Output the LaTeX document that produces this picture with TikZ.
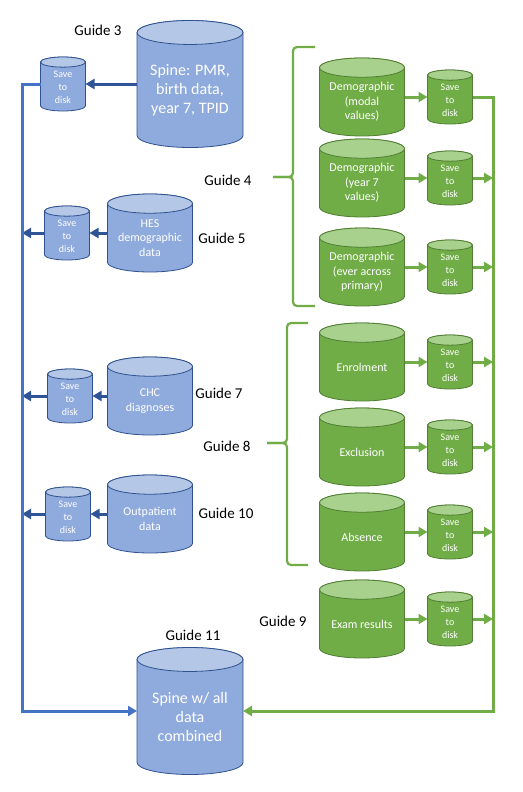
\documentclass[tikz,border=0pt]{standalone}
\usepackage{fontspec}
\setmainfont{Carlito}
\usetikzlibrary{arrows.meta,calc,backgrounds}

\definecolor{bluebody}{HTML}{8FAADC}
\definecolor{bluetop}{HTML}{B4C7E7}
\definecolor{blueedge}{HTML}{2F528F}
\definecolor{blueline}{HTML}{4472C4}
\definecolor{bluearrow}{HTML}{2F5597}
\definecolor{greenbody}{HTML}{70AD47}
\definecolor{greentop}{HTML}{A9D18E}
\definecolor{greenedge}{HTML}{507E32}
\definecolor{greenline}{HTML}{70AD47}

\tikzset{
  dbnode/.style={rectangle, inner sep=0pt, outer sep=0pt},
  bigdb/.style={dbnode, minimum width=106pt, minimum height=127pt},
  middb/.style={dbnode, minimum width=85pt, minimum height=78pt},
  diskdb/.style={dbnode, minimum width=45pt, minimum height=54pt},
  dbtext/.style={text=white, align=center, inner sep=0pt},
  bigtext/.style={dbtext, font=\fontsize{16}{19}\selectfont, yshift=-6pt},
  midtext/.style={dbtext, font=\fontsize{12}{14.5}\selectfont, yshift=-5pt},
  disktext/.style={dbtext, font=\fontsize{10}{13}\selectfont, yshift=-3pt},
  guide/.style={font=\fontsize{15}{18}\selectfont},
  flow/.style={line width=3pt, -{Triangle[length=9pt,width=10pt]}},
  bracket/.style={greenline, line width=2.2pt, rounded corners=4pt},
}

\begin{document}
\begin{tikzpicture}[x=1pt,y=-1pt]
  \useasboundingbox (0,0) rectangle (522,792);

  % blue sources (left column)
  \node at (190,84) (spine) [bigdb, label={[bigtext]center:{Spine: PMR,\\birth data,\\year 7, TPID}}] {};
  \node at (63,84) (spinesave) [diskdb, label={[disktext]center:{Save\\to\\disk}}] {};
  \node at (150,233) (hes) [middb, label={[midtext]center:{HES\\demographic\\data}}] {};
  \node at (67,233) (hessave) [diskdb, label={[disktext]center:{Save\\to\\disk}}] {};
  \node at (150,396) (chc) [middb, label={[midtext]center:{CHC\\diagnoses}}] {};
  \node at (70,396) (chcsave) [diskdb, label={[disktext]center:{Save\\to\\disk}}] {};
  \node at (150,514) (outp) [middb, label={[midtext]center:{Outpatient\\data}}] {};
  \node at (68,514) (outpsave) [diskdb, label={[disktext]center:{Save\\to\\disk}}] {};
  \node at (190,711) (spineall) [bigdb, label={[bigtext]center:{Spine w/ all\\data\\combined}}] {};

  % green sources (right column)
  \node at (362,97) (demomodal) [middb, label={[midtext]center:{Demographic\\(modal\\values)}}] {};
  \node at (450,97) (modalsave) [diskdb, label={[disktext]center:{Save\\to\\disk}}] {};
  \node at (362,178) (demoyear) [middb, label={[midtext]center:{Demographic\\(year 7\\values)}}] {};
  \node at (450,178) (yearsave) [diskdb, label={[disktext]center:{Save\\to\\disk}}] {};
  \node at (362,267) (demoever) [middb, label={[midtext]center:{Demographic\\(ever across\\primary)}}] {};
  \node at (450,267) (eversave) [diskdb, label={[disktext]center:{Save\\to\\disk}}] {};
  \node at (362,362) (enrol) [middb, label={[midtext]center:{Enrolment}}] {};
  \node at (450,362) (enrolsave) [diskdb, label={[disktext]center:{Save\\to\\disk}}] {};
  \node at (362,447) (excl) [middb, label={[midtext]center:{Exclusion}}] {};
  \node at (450,447) (exclsave) [diskdb, label={[disktext]center:{Save\\to\\disk}}] {};
  \node at (362,532) (absence) [middb, label={[midtext]center:{Absence}}] {};
  \node at (450,532) (abssave) [diskdb, label={[disktext]center:{Save\\to\\disk}}] {};
  \node at (362,619) (exam) [middb, label={[midtext]center:{Exam results}}] {};
  \node at (450,619) (examsave) [diskdb, label={[disktext]center:{Save\\to\\disk}}] {};

  % cylinder bodies and lids, behind the texts
  \begin{scope}[on background layer]
    \foreach \db/\c in {spine/blue, spinesave/blue, hes/blue, hessave/blue, chc/blue,
        chcsave/blue, outp/blue, outpsave/blue, spineall/blue,
        demomodal/green, modalsave/green, demoyear/green, yearsave/green,
        demoever/green, eversave/green, enrol/green, enrolsave/green,
        excl/green, exclsave/green, absence/green, abssave/green,
        exam/green, examsave/green}
    {
      \draw[draw=\c edge, fill=\c body, line width=0.8pt]
        let \p1=(\db.north west), \p2=(\db.south east),
            \n1={0.113*(\x2-\x1)}, \n2={(\x2-\x1)/2} in
        (\x1,{\y1-\n1}) -- (\x1,{\y2+\n1})
        arc[start angle=180, end angle=360, x radius={\n2*1pt}, y radius={\n1*1pt}]
        -- (\x2,{\y1-\n1})
        arc[start angle=0, end angle=180, x radius={\n2*1pt}, y radius={\n1*1pt}] -- cycle;
      \draw[draw=\c edge, fill=\c top, line width=0.8pt]
        let \p1=(\db.north west), \p2=(\db.south east),
            \n1={0.113*(\x2-\x1)}, \n2={(\x2-\x1)/2} in
        ({(\x1+\x2)/2},{\y1-\n1}) ellipse[x radius={\n2*1pt}, y radius={\n1*1pt}];
    }
  \end{scope}

  % guide labels
  \node at (98,30) (g3) [guide] {Guide 3};
  \node at (228,180) (g4) [guide] {Guide 4};
  \node at (222,238) (g5) [guide] {Guide 5};
  \node at (219,393) (g7) [guide] {Guide 7};
  \node at (227,446) (g8) [guide] {Guide 8};
  \node at (226,513) (g10) [guide] {Guide 10};
  \node at (283,621) (g9) [guide] {Guide 9};
  \node at (193,635) (g11) [guide] {Guide 11};

  % braces
  \draw[bracket] (315,47) -- (293,47) -- (293,177) -- (273,177);
  \draw[bracket] (273,177) -- (293,177) -- (293,306) -- (315,306);
  \draw[bracket] (308,323) -- (287,323) -- (287,443) -- (267,443);
  \draw[bracket] (267,443) -- (287,443) -- (287,565) -- (308,565);

  % blue connectors
  \coordinate (bbus) at (22,0);
  \draw[flow, bluearrow] (spine.west) -- (spinesave.east);
  \draw[flow, bluearrow] (hes.west) -- (hessave.east);
  \draw[flow, bluearrow] (chc.west) -- (chcsave.east);
  \draw[flow, bluearrow] (outp.west) -- (outpsave.east);
  \draw[flow, bluearrow] (hessave.west) -- (hessave.west -| bbus);
  \draw[flow, bluearrow] (chcsave.west) -- (chcsave.west -| bbus);
  \draw[flow, bluearrow] (outpsave.west) -- (outpsave.west -| bbus);
  \draw[flow, blueline] (spinesave.west) -- (spinesave.west -| bbus) |- (spineall.west);

  % green connectors
  \coordinate (gbus) at (493,0);
  \foreach \src/\dst in {demomodal/modalsave, demoyear/yearsave, demoever/eversave,
      enrol/enrolsave, excl/exclsave, absence/abssave, exam/examsave}
    \draw[flow, greenline] (\src.east) -- (\dst.west);
  \foreach \dst in {yearsave, eversave, enrolsave, exclsave, abssave, examsave}
    \draw[flow, greenline] (\dst.east) -- (\dst.east -| gbus);
  \draw[flow, greenline] (modalsave.east) -- (modalsave.east -| gbus) |- (spineall.east);
\end{tikzpicture}
\end{document}
